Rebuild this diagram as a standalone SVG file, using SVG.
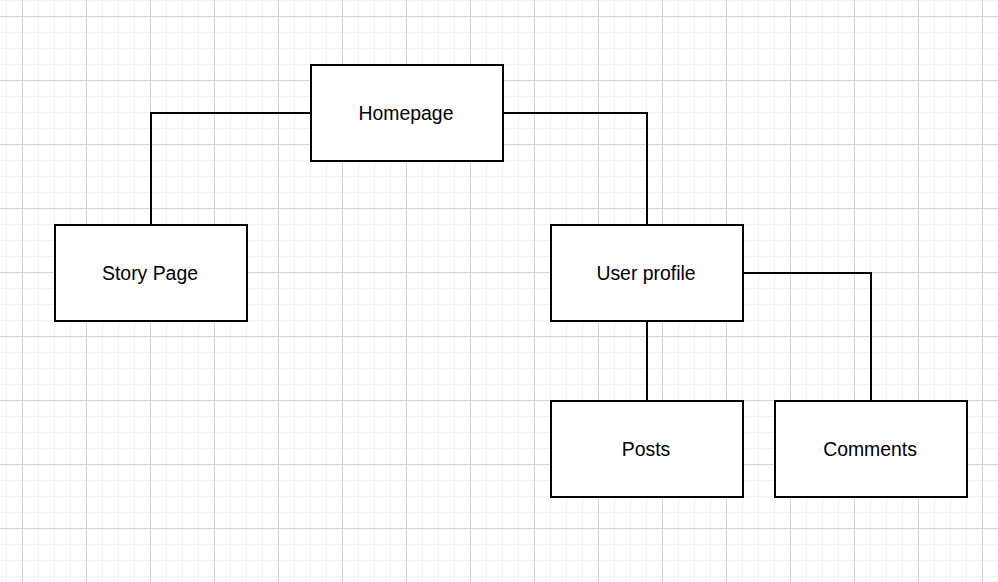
<svg xmlns="http://www.w3.org/2000/svg" width="998" height="582" viewBox="0 0 998 582">
<defs>
<pattern id="minor" x="6" y="0" width="16" height="16" patternUnits="userSpaceOnUse">
<path d="M0 0H16M0 0V16" fill="none" stroke="#f0f0f0" stroke-width="2"/>
</pattern>
<pattern id="major" x="22" y="16" width="64" height="64" patternUnits="userSpaceOnUse">
<path d="M0 0.5H64M0.5 0V64" fill="none" stroke="#d3d3d3" stroke-width="1"/>
</pattern>
</defs>
<style>
.box{fill:#ffffff;stroke:#000000;stroke-width:2}
.lbl{font-family:"Liberation Sans",Arial,sans-serif;font-size:19.4px;fill:#000000;text-anchor:middle;dominant-baseline:central}
.edge{fill:none;stroke:#000000;stroke-width:2}
</style>
<rect width="998" height="582" fill="#ffffff"/>
<rect width="998" height="582" fill="url(#minor)"/>
<rect width="998" height="582" fill="url(#major)"/>
<g id="connectors">
<path class="edge" d="M311 113H151V225"/>
<path class="edge" d="M503 113H647V225"/>
<path class="edge" d="M647 321V401"/>
<path class="edge" d="M743 273H871V401"/>
</g>
<g id="homepage"><rect class="box" x="311" y="65" width="192" height="96"/><text class="lbl" x="406" y="113">Homepage</text></g>
<g id="story-page"><rect class="box" x="55" y="225" width="192" height="96"/><text class="lbl" x="150" y="273">Story Page</text></g>
<g id="user-profile"><rect class="box" x="551" y="225" width="192" height="96"/><text class="lbl" x="646" y="273">User profile</text></g>
<g id="posts"><rect class="box" x="551" y="401" width="192" height="96"/><text class="lbl" x="646" y="449">Posts</text></g>
<g id="comments"><rect class="box" x="775" y="401" width="192" height="96"/><text class="lbl" x="870" y="449">Comments</text></g>
</svg>
